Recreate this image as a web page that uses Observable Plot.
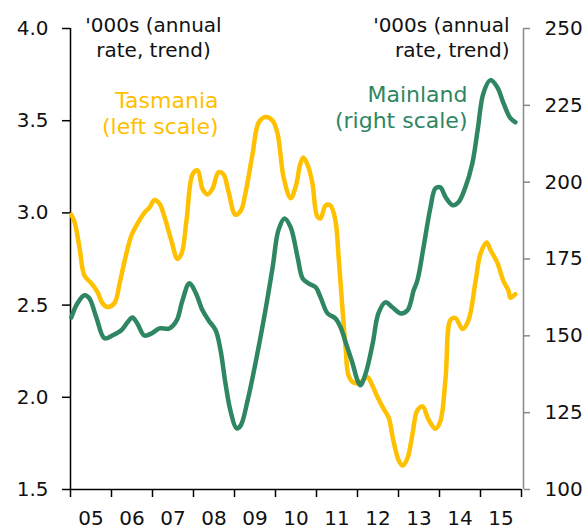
<!DOCTYPE html>
<html><head><meta charset="utf-8">
<script src="https://cdn.jsdelivr.net/npm/d3@7"></script>
<script src="https://cdn.jsdelivr.net/npm/@observablehq/plot@0.6"></script>
<style>body{margin:0;background:#fff}</style>
</head><body><div id="chart"></div>
<script>
const tasYears = [2005.02,2005.10,2005.22,2005.34,2005.50,2005.66,2005.78,2005.90,2006.07,2006.20,2006.32,2006.49,2006.63,2006.80,2006.93,2007.05,2007.17,2007.29,2007.46,2007.61,2007.71,2007.83,2007.98,2008.10,2008.22,2008.34,2008.46,2008.61,2008.73,2008.85,2009.02,2009.15,2009.27,2009.44,2009.59,2009.76,2009.93,2010.05,2010.20,2010.37,2010.49,2010.61,2010.68,2010.80,2010.90,2011.02,2011.10,2011.22,2011.34,2011.46,2011.54,2011.63,2011.71,2011.78,2011.90,2012.07,2012.24,2012.37,2012.49,2012.63,2012.76,2012.88,2013.00,2013.10,2013.22,2013.34,2013.46,2013.59,2013.73,2013.90,2014.02,2014.15,2014.27,2014.39,2014.56,2014.71,2014.88,2015.00,2015.15,2015.24,2015.41,2015.56,2015.68,2015.73,2015.85];
const tasValues = [2.99,2.95,2.81,2.66,2.62,2.57,2.51,2.49,2.51,2.62,2.74,2.88,2.94,3.00,3.03,3.07,3.05,2.98,2.85,2.75,2.78,2.96,3.21,3.23,3.13,3.10,3.13,3.22,3.21,3.12,2.99,3.01,3.11,3.32,3.49,3.52,3.50,3.43,3.19,3.08,3.14,3.27,3.30,3.25,3.16,2.98,2.97,3.04,3.04,2.96,2.76,2.49,2.27,2.12,2.08,2.08,2.11,2.06,2.00,1.94,1.89,1.76,1.66,1.63,1.67,1.80,1.93,1.95,1.88,1.83,1.87,2.11,2.42,2.43,2.37,2.42,2.63,2.78,2.84,2.80,2.73,2.63,2.58,2.54,2.56];
const mainYears = [2005.02,2005.17,2005.34,2005.46,2005.63,2005.83,2006.02,2006.24,2006.39,2006.51,2006.63,2006.80,2006.98,2007.17,2007.41,2007.59,2007.73,2007.90,2008.05,2008.22,2008.37,2008.54,2008.66,2008.78,2008.90,2009.05,2009.15,2009.32,2009.51,2009.71,2009.93,2010.07,2010.22,2010.37,2010.54,2010.66,2010.80,2010.98,2011.10,2011.27,2011.46,2011.59,2011.71,2011.88,2012.00,2012.07,2012.20,2012.37,2012.51,2012.68,2012.85,2013.05,2013.22,2013.37,2013.46,2013.61,2013.78,2013.90,2014.02,2014.15,2014.32,2014.46,2014.63,2014.80,2014.93,2015.07,2015.24,2015.41,2015.56,2015.73,2015.85];
const mainValues = [156.0,160.6,163.2,162.2,156.0,149.2,150.1,151.8,154.4,156.0,154.0,150.1,150.8,152.4,152.4,155.0,161.5,167.1,164.1,158.3,155.0,151.8,145.3,134.5,125.7,119.9,120.8,129.0,141.0,155.0,172.3,184.3,188.2,185.3,175.5,168.7,167.1,165.8,162.5,157.3,155.7,152.7,147.9,141.0,135.5,133.9,137.8,147.5,157.3,160.9,159.3,157.3,158.3,164.8,168.0,178.8,191.8,198.0,198.3,195.1,192.5,193.4,198.3,206.1,216.9,228.9,233.2,230.9,225.7,220.8,219.5];
const yearTicks = [2005,2006,2007,2008,2009,2010,2011,2012,2013,2014,2015,2016];
const yearLabels = ["05","06","07","08","09","10","11","12","13","14","15"];
const leftTicks = [1.5,2.0,2.5,3.0,3.5,4.0];
const rightTicks = [100,125,150,175,200,225,250];
const unitLabel = "'000s (annual\nrate, trend)";
const tasLabel = "Tasmania\n(left scale)";
const mainLabel = "Mainland\n(right scale)";

const L0 = leftTicks[0], L1 = leftTicks[leftTicks.length-1];
const R0 = rightTicks[0], R1 = rightTicks[rightTicks.length-1];
const toLeft = v => L0 + (v - R0) / (R1 - R0) * (L1 - L0);
const toRight = v => R0 + (v - L0) / (L1 - L0) * (R1 - R0);

const tas = tasYears.map((x, i) => ({x, y: tasValues[i]}));
const main = mainYears.map((x, i) => ({x, y: toLeft(mainValues[i])}));
const labelPos = yearLabels.map((t, i) => yearTicks[i] + 0.5);

const YELLOW = "#FFC000", GREEN = "#2E8662";

const chart = Plot.plot({
  width: 588, height: 532,
  marginLeft: 70, marginRight: 67, marginTop: 28, marginBottom: 43,
  style: {fontFamily: "DejaVu Sans", fontSize: "20px", color: "#111", background: "#fff"},
  x: {domain: [yearTicks[0], yearTicks[yearTicks.length-1]]},
  y: {domain: [L0, L1]},
  marks: [
    Plot.axisY({ticks: leftTicks, anchor: "left", tickSize: 8, tickPadding: 14, tickFormat: d => d.toFixed(1), label: null, stroke: "#000", fill: "#111", strokeWidth: 1.5}),
    Plot.axisY({ticks: rightTicks.map(toLeft), anchor: "right", tickSize: 6, tickPadding: 15, tickFormat: d => String(Math.round(toRight(d))), label: null, stroke: "#888", fill: "#111", strokeWidth: 1.5, dx: 2}),
    Plot.axisX({ticks: yearTicks, tickSize: 8, tickFormat: () => "", label: null, stroke: "#000", strokeWidth: 1.5}),
    Plot.axisX({ticks: labelPos, tickSize: 0, tickPadding: 21, tickFormat: (d) => yearLabels[Math.floor(d) - yearTicks[0]], label: null, fill: "#111"}),
    Plot.ruleX([yearTicks[0]], {stroke: "#000", strokeWidth: 1.5}),
    Plot.ruleX([yearTicks[yearTicks.length-1]], {stroke: "#888", strokeWidth: 1.5, dx: 2}),
    Plot.ruleY([L0], {stroke: "#000", strokeWidth: 1.5}),
    Plot.line(tas, {x: "x", y: "y", stroke: YELLOW, strokeWidth: 4.5, curve: "catmull-rom"}),
    Plot.line(main, {x: "x", y: "y", stroke: GREEN, strokeWidth: 4.5, curve: "catmull-rom"}),
    Plot.text([unitLabel], {frameAnchor: "top-left", dx: 83, dy: -14, textAnchor: "middle", lineAnchor: "top", lineHeight: 1.25, fontSize: 20, fill: "#111"}),
    Plot.text([unitLabel], {frameAnchor: "top-right", dx: -12, dy: -14, textAnchor: "end", lineAnchor: "top", lineHeight: 1.25, fontSize: 20, fill: "#111"}),
    Plot.text([tasLabel], {frameAnchor: "top-left", dx: 148, dy: 61, textAnchor: "end", lineAnchor: "top", lineHeight: 1.18, fontSize: 22, fill: YELLOW}),
    Plot.text([mainLabel], {frameAnchor: "top-right", dx: -54, dy: 55, textAnchor: "end", lineAnchor: "top", lineHeight: 1.18, fontSize: 22, fill: GREEN})
  ]
});
document.getElementById("chart").appendChild(chart);
</script>
</body></html>
